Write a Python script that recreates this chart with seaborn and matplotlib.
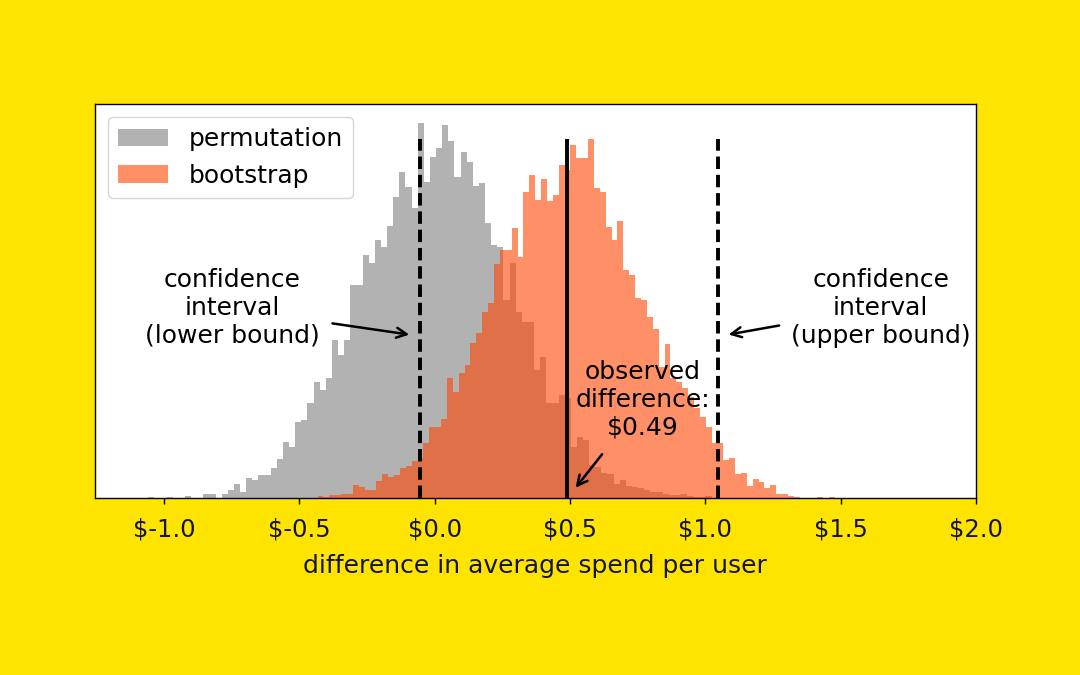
import numpy as np
import pandas as pd
import matplotlib
matplotlib.use("Agg")
import matplotlib.pyplot as plt
import seaborn as sns

# ---- data ----
gray_start = -1.0589
gray_width = 0.02263
gray_counts = [1, 0, 0, 1, 0, 0, 2, 0, 0, 4, 4, 0, 4, 8, 14, 6, 20, 18, 23, 23,
               30, 39, 56, 51, 76, 78, 95, 116, 108, 120, 158, 143, 158, 213, 213, 243, 235, 258, 251, 272,
               301, 326, 311, 290, 375, 316, 341, 350, 373, 357, 321, 346, 336, 312, 315, 275, 253, 251, 198, 235,
               186, 176, 176, 128, 141, 95, 95, 103, 100, 51, 61, 58, 33, 31, 25, 24, 14, 18, 12, 11,
               10, 8, 6, 6, 4, 3, 3, 4, 2, 1, 1, 2]

orange_start = -0.4330
orange_width = 0.02173
orange_counts = [2, 1, 3, 3, 4, 4, 13, 11, 8, 8, 17, 24, 21, 23, 30, 32, 37, 40, 55, 71,
                 71, 79, 120, 106, 125, 133, 155, 165, 186, 195, 234, 248, 248, 270, 241, 306, 323, 298, 319, 297,
                 303, 333, 328, 353, 340, 340, 359, 310, 306, 271, 258, 277, 228, 223, 200, 198, 181, 169, 131, 154,
                 120, 116, 110, 101, 90, 81, 71, 55, 55, 38, 40, 24, 25, 12, 19, 16, 10, 13, 4, 4,
                 2, 1, 0, 0, 0, 1, 0, 1]

ci_lower = -0.055
ci_upper = 1.045
observed = 0.49

xticks = [-1.0, -0.5, 0.0, 0.5, 1.0, 1.5, 2.0]
xtick_labels = ["$-1.0", "$-0.5", "$0.0", "$0.5", "$1.0", "$1.5", "$2.0"]

# ---- build tables ----
g_edges = gray_start + gray_width * np.arange(len(gray_counts) + 1)
o_edges = orange_start + orange_width * np.arange(len(orange_counts) + 1)
gdf = pd.DataFrame({"x": (g_edges[:-1] + g_edges[1:]) / 2, "w": gray_counts})
odf = pd.DataFrame({"x": (o_edges[:-1] + o_edges[1:]) / 2, "w": orange_counts})

sns.set_style("white")
plt.rcParams['font.family'] = ['DejaVu Sans']
plt.rcParams['text.color'] = 'black'
plt.rcParams['axes.labelcolor'] = '#14143a'
plt.rcParams['xtick.color'] = 'black'
plt.rcParams['xtick.labelcolor'] = '#14143a'
FS = 18

fig = plt.figure(figsize=(10.8, 6.75), dpi=100)
fig.patch.set_facecolor('#FFE400')
ax = fig.add_axes([94.7 / 1080, 1 - 498 / 675, (976 - 94.7) / 1080, (498 - 103.5) / 675])
ax.set_facecolor('white')

sns.histplot(data=gdf, x="x", weights="w", bins=list(g_edges), color='gray', alpha=0.6,
             linewidth=0, ax=ax, label='permutation')
sns.histplot(data=odf, x="x", weights="w", bins=list(o_edges), color='orangered', alpha=0.6,
             linewidth=0, ax=ax, label='bootstrap')

top = max(orange_counts)
ax.vlines([ci_lower, ci_upper], 0, top, colors='black', linestyles=(0, (3.2, 1.5)), linewidth=2.8)
ax.vlines([observed], 0, top, colors='black', linewidth=2.8)

ax.set_xlim(-1.2565, 2.0)
ax.set_ylim(0, 394.5)
ax.set_yticks([])
ax.set_ylabel('')
ax.set_xticks(xticks)
ax.set_xticklabels(xtick_labels, fontsize=17.5)
ax.tick_params(axis='x', length=4, width=1, bottom=True, pad=10)
ax.set_xlabel('difference in average spend per user', fontsize=FS, labelpad=9)
for s in ax.spines.values():
    s.set_color('black')
    s.set_linewidth(1.0)

leg = ax.legend(loc='upper left', fontsize=FS, frameon=True, handlelength=2.0,
                borderaxespad=0.55)
for t in leg.get_texts():
    t.set_color('black')

arrow = dict(arrowstyle='->', lw=1.8, color='black', mutation_scale=18)
ax.text(-0.749, 190, 'confidence\ninterval\n(lower bound)', ha='center', va='center', fontsize=FS)
ax.annotate('', xy=(-0.084, 163), xytext=(-0.388, 175), arrowprops=arrow)
ax.text(1.648, 190, 'confidence\ninterval\n(upper bound)', ha='center', va='center', fontsize=FS)
ax.annotate('', xy=(1.076, 163), xytext=(1.283, 173), arrowprops=arrow)
ax.text(0.769, 98, 'observed\ndifference:\n$0.49', ha='center', va='center', fontsize=FS)
ax.annotate('', xy=(0.514, 8), xytext=(0.625, 46), arrowprops=arrow)

fig.savefig('out.png', dpi=100, facecolor=fig.get_facecolor())
